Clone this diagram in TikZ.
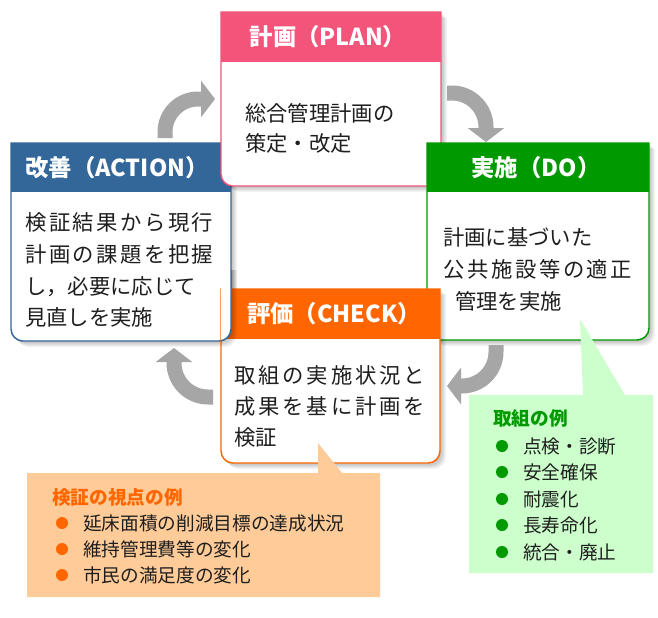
\documentclass[tikz,border=0pt]{standalone}
\usepackage{fontspec}
\setmainfont{Noto Sans CJK JP}
\usetikzlibrary{arrows.meta}
\definecolor{planc}{RGB}{242,84,122}
\definecolor{doc}{RGB}{0,153,0}
\definecolor{actc}{RGB}{51,102,153}
\definecolor{chkc}{RGB}{255,102,0}
\definecolor{calgreen}{RGB}{204,255,204}
\definecolor{calpeach}{RGB}{255,204,153}
\definecolor{arrowc}{RGB}{166,166,166}
\definecolor{textc}{RGB}{30,30,30}
% body outline: #1 x1, #2 y1, #3 x2, #4 y2, #5 options
\newcommand\bodyfill[5]{\path[#5] (#1,#2) -- (#3,#2) -- (#3,#4-12) arc[start angle=0,end angle=90,radius=12] -- (#1+12,#4) arc[start angle=90,end angle=180,radius=12] -- cycle;}
% full box: #1 x1, #2 y1, #3 x2, #4 y2, #5 header bottom, #6 colour
\newcommand\pdcabox[6]{%
  \foreach \k in {1,...,6}{\bodyfill{#1+\k}{#2+\k}{#3+\k}{#4+\k}{fill=black,opacity=0.045}}
  \bodyfill{#1}{#2}{#3}{#4}{fill=white}
  \fill[#6] (#1,#2) rectangle (#3,#5);
  \bodyfill{#1}{#2}{#3}{#4}{draw=#6,line width=1.1pt}
}
\newcommand\jl[2]{\makebox[#1][s]{#2}}
\begin{document}
\begin{tikzpicture}[x=0.75pt,y=-0.75pt,
  ttl/.style={font=\fontsize{17.5pt}{20pt}\selectfont\bfseries, text=white, inner sep=0, anchor=center},
  bodytxt/.style={font=\fontsize{16pt}{19pt}\selectfont, text=textc, inner sep=0, anchor=base west},
  ctitle/.style={font=\fontsize{14pt}{17pt}\selectfont\bfseries, inner sep=0, anchor=base west},
  itemtxt/.style={font=\fontsize{14pt}{17pt}\selectfont, text=textc, inner sep=0, anchor=base west},
  cyc/.style={draw=arrowc, line width=11.25pt, -{Triangle[length=10.5pt,width=27pt]}}
]
\useasboundingbox[fill=white] (0,0) rectangle (658,618);

% ACTION
\pdcabox{11}{143}{231}{341}{192}{actc}
\node[ttl] (acttitle) at (117,168) {改善（ACTION）};
\node[bodytxt] (act1) at (25,230) {\jl{141pt}{検\hfill 証\hfill 結\hfill 果\hfill か\hfill ら\hfill 現\hfill 行}};
\node[bodytxt] (act2) at (25,262) {\jl{141pt}{計\hfill 画\hfill の\hfill 課\hfill 題\hfill を\hfill 把\hfill 握}};
\node[bodytxt] (act3) at (25,294) {し，必要に応じて};
\node[bodytxt] (act4) at (25,325) {見直しを実施};

% PLAN
\pdcabox{221}{12}{441}{186}{62}{planc}
\node[ttl] (plantitle) at (328,37) {計画（PLAN）};
\node[bodytxt] (plan1) at (245,121) {総合管理計画の};
\node[bodytxt] (plan2) at (245,151) {策定・改定};

% DO
\pdcabox{427}{143}{649}{340}{192}{doc}
\node[ttl] (dotitle) at (536,168) {実施（DO）};
\node[bodytxt] (do1) at (443,245) {計画に基づいた};
\node[bodytxt] (do2) at (443,277) {\jl{141.75pt}{公\hfill 共\hfill 施\hfill 設\hfill 等\hfill の\hfill 適\hfill 正}};
\node[bodytxt] (do3) at (455,309) {管理を実施};

% CHECK
\pdcabox{221}{289}{440}{463}{339}{chkc}
\node[ttl] (chktitle) at (334,314) {評価（CHECK）};
\node[bodytxt] (chk1) at (234,383) {\jl{143.25pt}{取\hfill 組\hfill の\hfill 実\hfill 施\hfill 状\hfill 況\hfill と}};
\node[bodytxt] (chk2) at (234,414) {\jl{143.25pt}{成\hfill 果\hfill を\hfill 基\hfill に\hfill 計\hfill 画\hfill を}};
\node[bodytxt] (chk3) at (234,445) {検証};

% ACTION corner again on top of CHECK header
\begin{scope}
  \clip (221,270) rectangle (245,355);
  \pdcabox{11}{143}{231}{341}{192}{actc}
\end{scope}

% cycle arrows
\coordinate (a1s) at (165,138);
\coordinate (a1e) at (215,99);
\draw[cyc] (a1s) -- (165,132) arc[start angle=180,end angle=270,radius=33] -- (a1e);
\coordinate (a2s) at (447,93);
\coordinate (a2e) at (486,142);
\draw[cyc] (a2s) -- (452,93) arc[start angle=270,end angle=360,radius=34] -- (a2e);
\coordinate (a3s) at (496,345);
\coordinate (a3e) at (447,386);
\draw[cyc] (a3s) -- (496,352) arc[start angle=0,end angle=90,radius=34] -- (a3e);
\coordinate (a4s) at (213,397);
\coordinate (a4e) at (174,348);
\draw[cyc] (a4s) -- (208,397) arc[start angle=90,end angle=180,radius=34] -- (a4e);

% green callout
\fill[calgreen] (469,395) -- (583,395) -- (580,319) -- (625,395) -- (653,395) -- (653,573) -- (469,573) -- cycle;
\node[ctitle, text=doc] (gtitle) at (493,425) {取組の例};
\foreach \yy/\txt/\nm in {446/点検・診断/g1, 472/安全確保/g2, 499/耐震化/g3, 525/長寿命化/g4, 552/統合・廃止/g5}{
  \fill[doc] (502,\yy) circle[radius=6];
  \node[itemtxt] (\nm) at (523,\yy+7) {\txt};
}

% orange callout
\fill[calpeach] (27,473) -- (318,473) -- (318,443) -- (342,473) -- (380,473) -- (380,597) -- (27,597) -- cycle;
\node[ctitle, text=chkc] (otitle) at (52,504) {検証の視点の例};
\foreach \yy/\txt/\nm in {523/延床面積の削減目標の達成状況/o1, 549/維持管理費等の変化/o2, 575/市民の満足度の変化/o3}{
  \fill[chkc] (62,\yy) circle[radius=6];
  \node[itemtxt] (\nm) at (83,\yy+7) {\txt};
}
\end{tikzpicture}
\end{document}
